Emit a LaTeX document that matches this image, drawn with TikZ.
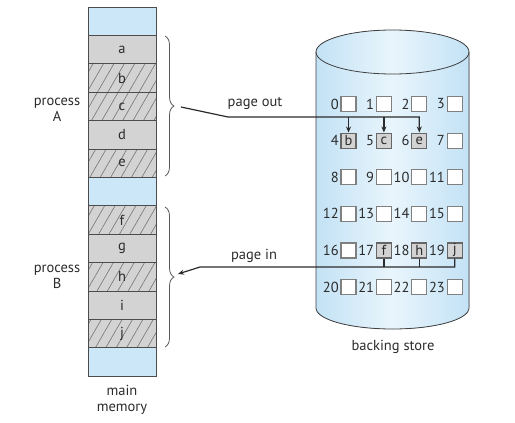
\documentclass[tikz,border=0pt]{standalone}
\usepackage{fontspec}
\setmainfont{PT Sans}
\usetikzlibrary{positioning,patterns.meta,decorations.pathreplacing,arrows.meta}
\definecolor{memblue}{HTML}{CCE7F7}
\definecolor{pagegray}{HTML}{D3D3D3}
\definecolor{inkgray}{HTML}{2B2B2B}
\definecolor{diskside}{HTML}{C3E2F5}
\definecolor{diskmid}{HTML}{E9F5FC}

\begin{document}
\begin{tikzpicture}[x=1pt,y=-1pt,font=\fontsize{14.5}{16}\selectfont,text=inkgray]
        \tikzset{Frame/.style={%
                shape=rectangle,%
                draw=black!70,%
                line width=0.9pt,%
                fill=pagegray,%
                minimum width=68pt,%
                minimum height=28.4pt,%
                inner sep=0pt,%
                outer sep=0pt,%
            },
            Free/.style={Frame, fill=memblue},
            Hatched/.style={Frame, preaction={fill=pagegray},%
                pattern={Lines[angle=60,distance=9pt,line width=0.6pt]},%
                pattern color=black!55},
            Slot/.style={%
                shape=rectangle,%
                draw=black!50,%
                line width=1.2pt,%
                fill=white,%
                minimum size=15pt,%
                inner sep=0pt,%
            },
            Used/.style={Slot, fill=pagegray, draw=black!60},
            Brace/.style={decorate, decoration={brace,amplitude=9pt},%
                draw=black!65, line width=0.8pt},
            Link/.style={draw=inkgray, line width=1.2pt},
        }

        % main memory
        \useasboundingbox (0,0) rectangle (515,423);
        \node[Free] (top) at (122,21.2) {};
        \node[Frame, below=0pt of top] (a) {a};
        \node[Hatched, below=0pt of a] (b) {b};
        \node[Hatched, below=0pt of b] (c) {c};
        \node[Frame, below=0pt of c] (d) {d};
        \node[Hatched, below=0pt of d] (e) {e};
        \node[Free, below=0pt of e] (gap) {};
        \node[Hatched, below=0pt of gap] (f) {f};
        \node[Frame, below=0pt of f] (g) {g};
        \node[Hatched, below=0pt of g] (h) {h};
        \node[Frame, below=0pt of h] (i) {i};
        \node[Hatched, below=0pt of i] (j) {j};
        \node[Free, below=0pt of j] (bottom) {};
        \node[align=center] (mem) at (122,400) {main\\memory};

        \node[align=center] (procA) at (57,110) {process\\A};
        \node[align=center] (procB) at (57,277) {process\\B};
        \draw[Brace] (165,36) -- (165,176) coordinate[midway,xshift=9pt] (tipA);
        \draw[Brace] (165,207) -- (165,347) coordinate[midway,xshift=9pt] (tipB);

        % backing store
        \fill[left color=diskside, right color=diskside, middle color=diskmid]
            (316,52) -- (316,308) arc[start angle=180,end angle=0,x radius=76.5,y radius=21]
            -- (469,52) arc[start angle=0,end angle=-180,x radius=76.5,y radius=22] -- cycle;
        \draw[black!75, line width=0.8pt] (316,52) -- (316,308)
            arc[start angle=180,end angle=0,x radius=76.5,y radius=21] -- (469,52);
        \draw[black!75, line width=0.8pt] (392.5,52) ellipse[x radius=76.5,y radius=22];
        \node (store) at (393,347) {backing store};

        \foreach \n in {0,1,2,3,7,8,9,10,11,12,13,14,15,16,20,21,22,23}
            \node[Slot] (s\n) at ({348.5+35.4*mod(\n,4)},{104+36.6*div(\n,4)}) {};
        \foreach \n/\t in {4/b,5/c,6/e,17/f,18/h,19/j}
            \node[Used] (s\n) at ({348.5+35.4*mod(\n,4)},{104+36.6*div(\n,4)}) {\t};
        \foreach \n in {0,...,23}
            \node[anchor=east, inner sep=1.5pt] at (s\n.west) {\n};

        % page out
        \coordinate (outA) at (181,107);
        \coordinate (bendA) at (228,117);
        \node (out) at (255,104) {page out};
        \draw[Link,-{Stealth[length=6pt,width=5pt]}] (outA) -- (bendA) -| (s6);
        \draw[Link,-{Stealth[length=6pt,width=5pt]}] (bendA -| s4) -- (s4);
        \draw[Link,-{Stealth[length=6pt,width=5pt]}] (bendA -| s5) -- (s5);

        % page in
        \coordinate (inB) at (178,274);
        \coordinate (bendB) at (200,267);
        \node (in) at (254,256) {page in};
        \draw[Link,-{Stealth[length=6pt,width=5pt]}] (s19) |- (bendB) -- (inB);
        \draw[Link] (s17) -- (s17 |- bendB);
        \draw[Link] (s18) -- (s18 |- bendB);
\end{tikzpicture}
\end{document}
